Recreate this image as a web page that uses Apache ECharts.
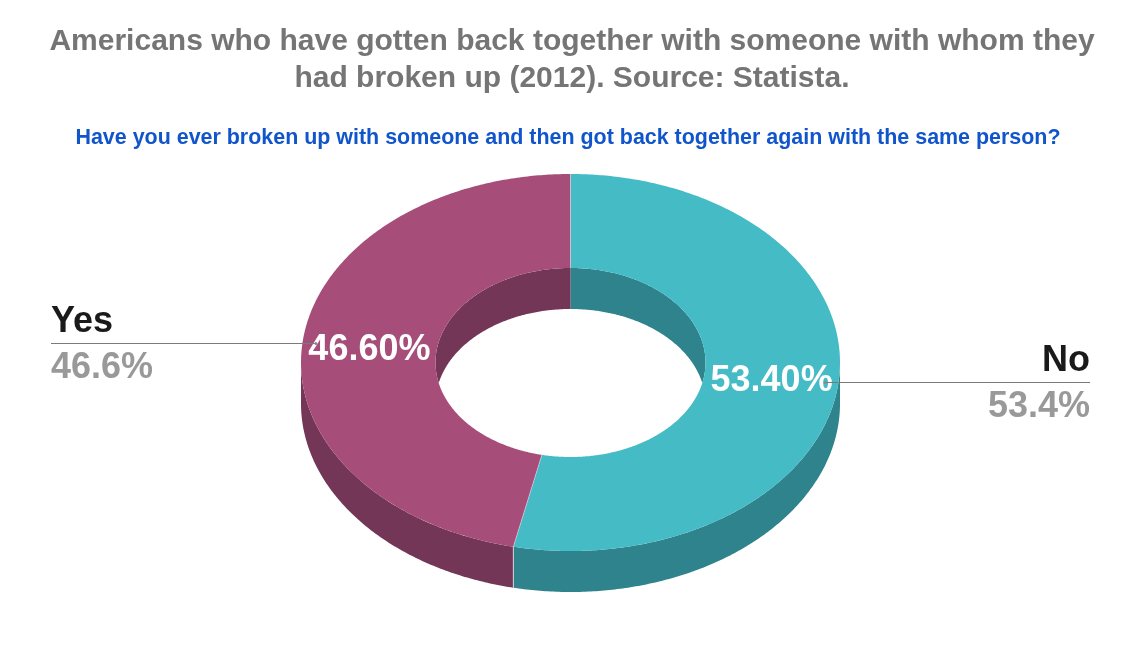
<!DOCTYPE html>
<html><head><meta charset="utf-8">
<style>html,body{margin:0;padding:0;background:#fff}#c{width:1143px;height:653px}</style>
<script src="https://cdn.jsdelivr.net/npm/echarts@6/dist/echarts.min.js"></script>
</head><body><div id="c"></div>
<script>
const categories = ['No', 'Yes'];
const seriesValues = [53.4, 46.6];
const valueLabels = ['53.40%', '46.60%'];
const outerLabels = ['53.4%', '46.6%'];
const topColors = ['#45bbc6', '#a64d79'];
const sideColors = ['#2f838d', '#743657'];
const titleLine1 = 'Americans who have gotten back together with someone with whom they';
const titleLine2 = 'had broken up (2012). Source: Statista.';
const subtitleText = 'Have you ever broken up with someone and then got back together again with the same person?';

const FONT = '"Liberation Sans", Arial, sans-serif';
const G = {cx: 570.5, cy: 362.5, rx: 269.5, ry: 188.5, irx: 135, iry: 94.5, depth: 41};
const total = seriesValues.reduce((a, b) => a + b, 0);
const starts = []; seriesValues.reduce((acc, v, i) => (starts[i] = acc, acc + v), 0);
const EDGE = 'rgba(255,255,255,0.4)';

// angles are clockwise from 12 o'clock, in radians
const pt = (a, rx, ry, dy) => [G.cx + rx * Math.sin(a), G.cy - ry * Math.cos(a) + (dy || 0)];
function arc(a0, a1, rx, ry, dy) {
  const n = Math.max(2, Math.ceil(Math.abs(a1 - a0) / 0.01)), out = [];
  for (let i = 0; i <= n; i++) out.push(pt(a0 + (a1 - a0) * i / n, rx, ry, dy));
  return out;
}
const TAU = Math.PI * 2;

function renderItem(params, api) {
  const i = params.dataIndex;
  const a0 = api.value(1) / total * TAU;
  const a1 = a0 + api.value(0) / total * TAU;
  const mid = (a0 + a1) / 2;
  const children = [];
  const poly = (points, fill, z2) => children.push({
    type: 'polygon', z2: z2 || 0, shape: {points}, style: {fill}
  });
  const seam = (p, q, z2) => children.push({type: 'line', z2, shape: {x1: p[0], y1: p[1], x2: q[0], y2: q[1]},
    style: {stroke: EDGE, lineWidth: 1}});

  // outer front wall: the part of the slice on the lower half of the ellipse
  const f0 = Math.max(a0, Math.PI / 2), f1 = Math.min(a1, Math.PI * 1.5);
  if (f1 > f0) {
    poly(arc(f0, f1, G.rx, G.ry).concat(arc(f1, f0, G.rx, G.ry, G.depth)), sideColors[i], 1);
    [f0, f1].forEach(a => {
      if (a > Math.PI / 2 + 1e-6 && a < Math.PI * 1.5 - 1e-6) {
        seam(pt(a, G.rx, G.ry), pt(a, G.rx, G.ry, G.depth), 2);
      }
    });
  }

  // inner back wall: the slice's part of the upper half of the hole, clipped by the hole
  const ranges = [[Math.max(a0, 0), Math.min(a1, Math.PI / 2)], [Math.max(a0, Math.PI * 1.5), Math.min(a1, TAU)]];
  ranges.forEach(([b0, b1]) => {
    if (b1 <= b0) return;
    const upper = arc(b0, b1, G.irx, G.iry);
    const lower = upper.map(p => {
      const u = (p[0] - G.cx) / G.irx;
      const h = G.iry * Math.sqrt(Math.max(0, 1 - u * u));
      return [p[0], Math.min(G.cy - h + G.depth, G.cy + h)];
    }).reverse();
    poly(upper.concat(lower), sideColors[i], 1);
  });

  // top face and its radial seam at the slice's start
  poly(arc(a0, a1, G.rx, G.ry).concat(arc(a1, a0, G.irx, G.iry)), topColors[i], 3);
  seam(pt(a0, G.rx, G.ry), pt(a0, G.irx, G.iry), 4);

  // value on the ring
  const lp = pt(mid, (G.rx + G.irx) / 2, (G.ry + G.iry) / 2);
  children.push({type: 'text', z2: 5, style: {
    x: lp[0], y: lp[1] + 3, text: valueLabels[i], align: 'center', verticalAlign: 'middle',
    fill: '#fff', font: 'bold 36px ' + FONT}});

  // leader line and outside labels
  const right = Math.sin(mid) > 0;
  const ep = pt(mid, G.rx * 0.95, G.ry * 0.95);
  const endX = right ? 1090 : 51;
  const ly = Math.round(ep[1]) + 0.5;
  children.push({type: 'line', z2: 6, shape: {x1: ep[0], y1: ly, x2: endX, y2: ly},
    style: {stroke: '#7a7a7a', lineWidth: 1}});
  children.push({type: 'circle', z2: 6, shape: {cx: ep[0], cy: ly, r: 1.5}, style: {fill: '#8a8a8a'}});
  children.push({type: 'text', z2: 6, style: {
    x: endX, y: ly - 21, text: categories[i], align: right ? 'right' : 'left', verticalAlign: 'middle',
    fill: '#1a1a1a', font: 'bold 36px ' + FONT}});
  children.push({type: 'text', z2: 6, style: {
    x: endX, y: ly + 25, text: outerLabels[i], align: right ? 'right' : 'left', verticalAlign: 'middle',
    fill: '#999999', font: 'bold 36px ' + FONT}});

  return {type: 'group', children};
}

const chart = echarts.init(document.getElementById('c'), null, {renderer: 'canvas'});
const titleStyle = {fontFamily: FONT, fontWeight: 'bold', fontSize: 30, color: '#757575'};
chart.setOption({
  animation: false,
  backgroundColor: '#ffffff',
  title: [
    {text: titleLine1, left: 567, top: 22, textAlign: 'center', textStyle: titleStyle},
    {text: titleLine2, left: 567, top: 59, textAlign: 'center', textStyle: titleStyle},
    {text: subtitleText, left: 563, top: 123, textAlign: 'center',
     textStyle: {fontFamily: FONT, fontWeight: 'bold', fontSize: 21.44, color: '#1155cc'}}
  ],
  series: [{
    type: 'custom', coordinateSystem: 'none', renderItem, silent: true,
    data: seriesValues.map((v, i) => ({name: categories[i], value: [v, starts[i]]}))
  }]
});
</script></body></html>
